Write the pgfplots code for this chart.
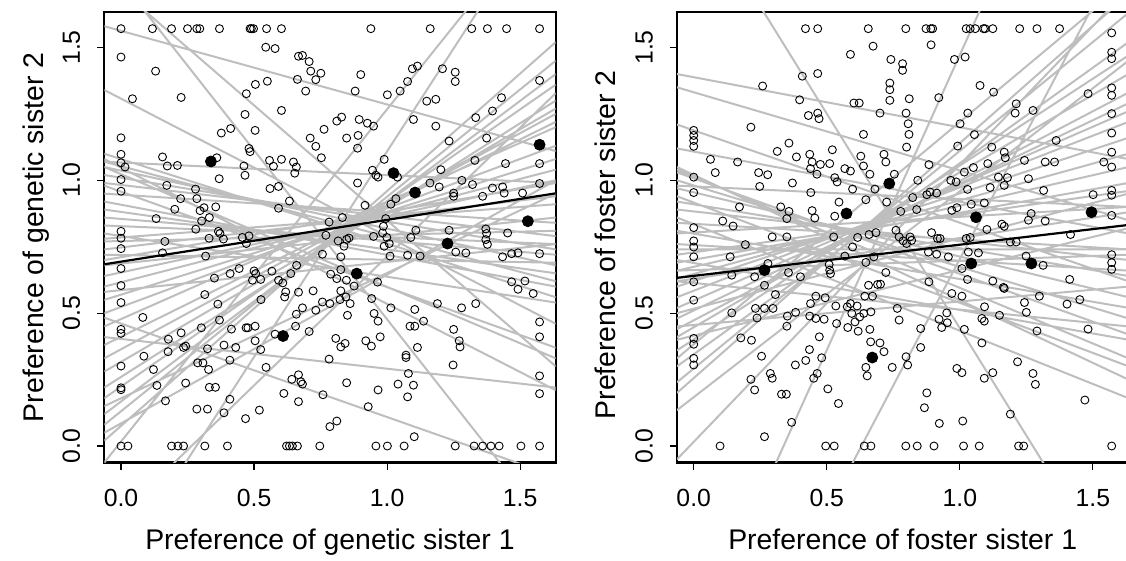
\documentclass[border=0pt]{standalone}
\usepackage{pgfplots}
\pgfplotsset{compat=1.18}
\usepackage{fontspec}
\setmainfont{Liberation Sans}
\definecolor{lgray}{RGB}{190,190,190}
\pgfplotsset{
  rpanel/.style={
    scale only axis, width=225.7pt, height=225.35pt,
    xmin=-0.0628, xmax=1.6336, ymin=-0.0628, ymax=1.6336,
    xtick={0,0.5,1,1.5}, ytick={0,0.5,1,1.5},
    tick align=outside, xtick pos=left, ytick pos=left,
    major tick length=3.5pt,
    axis line style={line width=1.2pt},
    tick style={line width=0.6pt, black},
    ticklabel style={font=\fontsize{12.4}{13}\selectfont},
    xticklabel style={anchor=base, yshift=-18.5pt},
    yticklabel style={xshift=-8.7pt, rotate=90, anchor=base},
    /pgf/number format/fixed, /pgf/number format/fixed zerofill,
    /pgf/number format/precision=1, /pgf/number format/assume math mode=true,
    every axis x label/.style={at={(axis description cs:0.5,0)}, yshift=-43.2pt, anchor=base, font=\fontsize{14.2}{16}\selectfont},
    every axis y label/.style={at={(axis description cs:0,0.5)}, xshift=-30.6pt, rotate=90, anchor=base, font=\fontsize{14.2}{16}\selectfont},
    unbounded coords=jump,
  },
  glines/.style={lgray, line width=1pt, no markers},
  opts/.style={only marks, mark=o, mark size=2pt, mark options={line width=0.45pt, black}},
  fpts/.style={only marks, mark=*, mark size=2.75pt, black},
}
\begin{document}
\begin{tikzpicture}
\useasboundingbox (0,0) rectangle (563pt,280.5pt);
% ---------------- left panel ----------------
\begin{axis}[rpanel, at={(52.15pt,49.15pt)}, anchor=south west,
  xlabel={Preference of genetic sister 1}, ylabel={Preference of genetic sister 2}]
\addplot[glines] table[row sep=\\] {
x y\\
-0.0628 1.83\\ 1.6336 -0.33\\ nan nan\\
-0.0628 1.77\\ 1.6336 0.30\\ nan nan\\
-0.0628 1.58\\ 1.6336 1.11\\ nan nan\\
-0.0628 1.34\\ 1.6336 0.46\\ nan nan\\
-0.0628 0.483\\ 1.6336 -0.114\\ nan nan\\
-0.0628 0.41\\ 1.6336 0.22\\ nan nan\\
-0.0628 1.08\\ 1.6336 0.21\\ nan nan\\
-0.0628 1.05\\ 1.6336 0.33\\ nan nan\\
-0.0628 0.98\\ 1.6336 0.37\\ nan nan\\
-0.0628 -0.536\\ 1.6336 2.09\\ nan nan\\
-0.0628 -0.318\\ 1.6336 1.328\\ nan nan\\
-0.0628 -0.062\\ 1.6336 2.06\\ nan nan\\
-0.0628 0.02\\ 1.6336 1.52\\ nan nan\\
-0.0628 0.08\\ 1.6336 1.45\\ nan nan\\
-0.0628 0.12\\ 1.6336 1.40\\ nan nan\\
-0.0628 0.18\\ 1.6336 1.36\\ nan nan\\
-0.0628 0.22\\ 1.6336 1.30\\ nan nan\\
-0.0628 0.28\\ 1.6336 1.27\\ nan nan\\
-0.0628 0.33\\ 1.6336 1.25\\ nan nan\\
-0.0628 0.38\\ 1.6336 1.22\\ nan nan\\
-0.0628 0.45\\ 1.6336 1.20\\ nan nan\\
-0.0628 0.50\\ 1.6336 1.13\\ nan nan\\
-0.0628 0.55\\ 1.6336 1.08\\ nan nan\\
-0.0628 0.60\\ 1.6336 1.04\\ nan nan\\
-0.0628 0.64\\ 1.6336 1.00\\ nan nan\\
-0.0628 0.70\\ 1.6336 0.99\\ nan nan\\
-0.0628 0.74\\ 1.6336 0.94\\ nan nan\\
-0.0628 0.78\\ 1.6336 0.91\\ nan nan\\
-0.0628 1.10\\ 1.6336 0.56\\ nan nan\\
-0.0628 1.07\\ 1.6336 0.62\\ nan nan\\
-0.0628 1.05\\ 1.6336 0.68\\ nan nan\\
-0.0628 1.02\\ 1.6336 0.74\\ nan nan\\
-0.0628 0.99\\ 1.6336 0.79\\ nan nan\\
-0.0628 0.95\\ 1.6336 0.84\\ nan nan\\
-0.0628 0.92\\ 1.6336 0.60\\ nan nan\\
-0.0628 0.89\\ 1.6336 0.65\\ nan nan\\
-0.0628 0.86\\ 1.6336 0.72\\ nan nan\\
-0.0628 0.83\\ 1.6336 0.76\\ nan nan\\
-0.0628 0.80\\ 1.6336 0.54\\ nan nan\\
-0.0628 0.77\\ 1.6336 0.81\\ nan nan\\
-0.0628 0.72\\ 1.6336 0.69\\ nan nan\\
-0.0628 0.68\\ 1.6336 0.86\\ nan nan\\
-0.0628 0.58\\ 1.6336 0.76\\ nan nan\\
-0.0628 1.07\\ 1.6336 0.99\\ nan nan\\
-0.0628 0.15\\ 1.6336 0.95\\ nan nan\\
-0.0628 0.05\\ 1.6336 1.00\\
};
\addplot[opts] table[row sep=\\] {
x y\\
0 1.5708\\ 0.118 1.5708\\ 0.19 1.5708\\ 0.25 1.5708\\ 0.285 1.5708\\ 0.296 1.5708\\ 0.37 1.5708\\ 0.485 1.5708\\ 0.49 1.5708\\ 0.498 1.5708\\ 0.547 1.5708\\ 0.603 1.5708\\ 0.939 1.5708\\ 1.162 1.5708\\ 1.318 1.5708\\ 1.377 1.5708\\ 1.449 1.5708\\ 1.573 1.5708\\
0 0\\ 0.026 0\\ 0.19 0\\ 0.214 0\\ 0.235 0\\ 0.315 0\\ 0.4 0\\ 0.622 0\\ 0.633 0\\ 0.644 0\\ 0.663 0\\ 0.747 0\\ 0.958 0\\ 1.001 0\\ 1.064 0\\ 1.256 0\\ 1.327 0\\ 1.359 0\\ 1.39 0\\ 1.421 0\\ 1.503 0\\ 1.573 0\\
0 1.464\\ 0.544 1.501\\ 0.579 1.496\\ 0.667 1.467\\ 0.13 1.411\\ 0.043 1.307\\ 0.226 1.312\\ 0.663 1.38\\ 0.55 1.373\\ 0.505 1.361\\ 0.471 1.326\\ 0.603 1.263\\ 0.466 1.248\\ 0.412 1.195\\ 0.377 1.178\\ 0.504 1.188\\ 0 1.16\\ 0.481 1.12\\ 0.485 1.108\\ 0 1.098\\ 0 1.066\\ 0.015 1.05\\ 0 1.003\\ 0 0.959\\ 0.156 1.088\\ 0.174 1.054\\ 0.212 1.056\\ 0.36 1.085\\ 0.369 1.006\\ 0.462 1.054\\ 0.466 1.019\\ 0.558 1.075\\ 0.573 1.053\\ 0.603 1.079\\ 0.648 1.069\\ 0.659 1.05\\ 0.653 1.027\\ 0.172 0.981\\ 0.28 0.967\\ 0.224 0.931\\ 0.285 0.931\\ 0.202 0.891\\ 0.297 0.886\\ 0.312 0.897\\ 0.356 0.9\\ 0.332 0.86\\ 0.303 0.847\\ 0.132 0.856\\ 0.56 0.969\\ 0.592 0.977\\ 0.592 0.895\\ 0.633 0.922\\ 0.281 0.816\\ 0.366 0.808\\ 0.372 0.8\\ 0.331 0.782\\ 0.385 0.779\\ 0.456 0.785\\ 0.481 0.791\\ 0.471 0.762\\ 0 0.808\\ 0 0.782\\ 0.165 0.77\\
0 0.743\\ 0.156 0.727\\ 0.318 0.715\\ 0 0.668\\ 0 0.604\\ 0 0.54\\ 0.444 0.668\\ 0.41 0.649\\ 0.351 0.632\\ 0.5 0.659\\ 0.506 0.649\\ 0.494 0.624\\ 0.525 0.627\\ 0.567 0.658\\ 0.592 0.624\\ 0.608 0.614\\ 0.638 0.649\\ 0.66 0.68\\ 0.619 0.58\\ 0.615 0.561\\ 0.315 0.57\\ 0.364 0.534\\ 0.526 0.551\\ 0.667 0.579\\ 0.659 0.496\\ 0.082 0.484\\ 0 0.439\\ 0 0.424\\ 0.37 0.474\\ 0.302 0.445\\ 0.226 0.426\\ 0.415 0.44\\ 0.47 0.445\\ 0.477 0.445\\ 0.504 0.451\\ 0.656 0.451\\ 0.178 0.402\\ 0.504 0.396\\ 0.579 0.421\\ 0.177 0.355\\ 0.235 0.371\\ 0.243 0.376\\ 0.325 0.366\\ 0.387 0.38\\ 0.431 0.371\\ 0.525 0.363\\ 0.086 0.338\\ 0.409 0.323\\ 0 0.301\\ 0.122 0.288\\ 0.288 0.313\\ 0.308 0.313\\ 0.329 0.288\\ 0.545 0.296\\ 0.667 0.268\\ 0.642 0.251\\ 0 0.219\\ 0 0.212\\ 0.135 0.228\\ 0.243 0.237\\ 0.332 0.221\\ 0.355 0.221\\ 0.612 0.198\\ 0.667 0.167\\ 0.167 0.17\\ 0.409 0.176\\ 0.285 0.139\\ 0.325 0.139\\ 0.387 0.125\\ 0.52 0.135\\ 0.468 0.103\\
0.682 1.47\\ 0.707 1.447\\ 0.713 1.411\\ 0.732 1.379\\ 0.751 1.403\\ 0.694 1.336\\ 0.901 1.398\\ 0.88 1.336\\ 1.095 1.42\\ 1.114 1.43\\ 1.208 1.42\\ 1.256 1.407\\ 1.256 1.372\\ 1.077 1.372\\ 1.049 1.336\\ 1.001 1.322\\ 1.149 1.298\\ 1.183 1.305\\ 1.573 1.376\\ 1.43 1.311\\ 1.396 1.261\\ 1.333 1.236\\ 1.099 1.229\\ 1.183 1.204\\ 0.811 1.223\\ 0.829 1.238\\ 0.895 1.229\\ 0.926 1.215\\ 0.949 1.204\\ 0.763 1.192\\ 0.711 1.159\\ 0.732 1.128\\ 0.848 1.159\\ 0.891 1.169\\ 0.889 1.121\\ 0.753 1.085\\ 0.989 1.079\\ 1.233 1.148\\ 1.374 1.159\\ 1.33 1.075\\ 1.445 1.063\\ 1.573 1.063\\ 1.573 0.988\\ 1.202 1.04\\ 0.945 1.038\\ 0.958 1.019\\ 0.966 1.012\\ 1.039 1.012\\ 0.889 0.99\\ 1.161 0.99\\ 1.196 0.975\\ 1.281 1.0\\ 1.321 0.984\\ 1.359 0.94\\ 1.396 0.971\\ 1.434 0.975\\ 1.44 0.952\\ 1.25 0.952\\ 1.25 0.94\\ 1.509 0.952\\ 1.014 0.91\\ 1.033 0.931\\ 0.917 0.906\\ 0.832 0.86\\ 0.782 0.843\\ 0.986 0.827\\ 0.995 0.856\\ 1.233 0.812\\ 1.371 0.817\\ 1.374 0.8\\ 1.453 0.802\\ 1.108 0.812\\ 1.089 0.785\\ 0.949 0.789\\ 0.983 0.802\\ 0.999 0.785\\ 1.008 0.762\\ 0.989 0.752\\ 0.77 0.793\\ 0.816 0.772\\ 0.848 0.778\\ 0.857 0.783\\ 0.838 0.752\\ 1.371 0.777\\ 1.377 0.759\\
0.757 0.722\\ 0.826 0.712\\ 1.011 0.715\\ 1.077 0.718\\ 1.124 0.715\\ 1.258 0.73\\ 1.296 0.727\\ 1.434 0.712\\ 1.468 0.724\\ 1.492 0.727\\ 1.573 0.724\\ 0.788 0.647\\ 0.811 0.63\\ 0.826 0.664\\ 0.847 0.624\\ 0.826 0.584\\ 0.823 0.551\\ 0.845 0.561\\ 0.876 0.602\\ 0.861 0.536\\ 0.851 0.492\\ 0.785 0.536\\ 0.757 0.542\\ 0.732 0.511\\ 0.707 0.431\\ 0.722 0.584\\ 0.682 0.52\\ 0.964 0.617\\ 0.942 0.555\\ 0.951 0.499\\ 0.966 0.47\\ 1.014 0.52\\ 1.104 0.514\\ 1.086 0.451\\ 1.104 0.451\\ 1.137 0.47\\ 1.189 0.536\\ 1.28 0.52\\ 1.333 0.536\\ 1.468 0.618\\ 1.492 0.59\\ 1.518 0.621\\ 1.549 0.574\\ 1.573 0.467\\ 1.573 0.411\\ 1.25 0.439\\ 1.271 0.396\\ 1.274 0.373\\ 0.807 0.405\\ 0.826 0.373\\ 0.842 0.386\\ 0.92 0.396\\ 0.941 0.376\\ 0.974 0.411\\ 1.114 0.371\\ 0.782 0.327\\ 1.071 0.342\\ 1.071 0.333\\ 1.08 0.273\\ 1.248 0.305\\ 1.573 0.264\\ 1.573 0.197\\ 0.676 0.242\\ 0.682 0.233\\ 0.848 0.238\\ 0.966 0.211\\ 1.041 0.233\\ 1.099 0.229\\ 1.077 0.185\\ 0.759 0.193\\ 0.929 0.148\\ 0.811 0.094\\ 0.785 0.073\\ 1.102 0.035\\
};
\addplot[black, line width=1.1pt, no markers] coordinates {(-0.0628,0.684) (1.6336,0.951)};
\addplot[fpts] coordinates {(0.338,1.071) (0.609,0.414) (1.024,1.027) (1.105,0.954) (1.573,1.134) (1.529,0.846) (1.227,0.762) (0.886,0.649)};
\end{axis}
% ---------------- right panel ----------------
\begin{axis}[rpanel, at={(338.5pt,49.15pt)}, anchor=south west,
  every axis y label/.append style={xshift=-3.8pt},
  xlabel={Preference of foster sister 1}, ylabel={Preference of foster sister 2}]
\addplot[glines] table[row sep=\\] {
x y\\
-0.0628 2.16\\ 1.6336 -0.58\\ nan nan\\
-0.0628 -1.32\\ 1.6336 1.91\\ nan nan\\
-0.0628 -0.89\\ 1.6336 2.88\\ nan nan\\
-0.0628 -0.05\\ 1.6336 1.72\\ nan nan\\
-0.0628 0.135\\ 1.6336 1.45\\ nan nan\\
-0.0628 0.24\\ 1.6336 1.63\\ nan nan\\
-0.0628 0.30\\ 1.6336 1.52\\ nan nan\\
-0.0628 0.36\\ 1.6336 1.47\\ nan nan\\
-0.0628 0.41\\ 1.6336 1.40\\ nan nan\\
-0.0628 0.44\\ 1.6336 1.33\\ nan nan\\
-0.0628 0.48\\ 1.6336 1.29\\ nan nan\\
-0.0628 0.52\\ 1.6336 1.26\\ nan nan\\
-0.0628 0.56\\ 1.6336 1.22\\ nan nan\\
-0.0628 0.60\\ 1.6336 1.16\\ nan nan\\
-0.0628 0.63\\ 1.6336 1.10\\ nan nan\\
-0.0628 0.66\\ 1.6336 1.05\\ nan nan\\
-0.0628 0.69\\ 1.6336 0.99\\ nan nan\\
-0.0628 0.72\\ 1.6336 0.96\\ nan nan\\
-0.0628 0.50\\ 1.6336 0.95\\ nan nan\\
-0.0628 0.80\\ 1.6336 0.90\\ nan nan\\
-0.0628 1.40\\ 1.6336 1.08\\ nan nan\\
-0.0628 1.35\\ 1.6336 0.85\\ nan nan\\
-0.0628 1.21\\ 1.6336 0.62\\ nan nan\\
-0.0628 1.05\\ 1.6336 0.25\\ nan nan\\
-0.0628 1.04\\ 1.6336 0.33\\ nan nan\\
-0.0628 1.03\\ 1.6336 0.42\\ nan nan\\
-0.0628 1.00\\ 1.6336 0.48\\ nan nan\\
-0.0628 0.97\\ 1.6336 0.56\\ nan nan\\
-0.0628 0.94\\ 1.6336 0.30\\ nan nan\\
-0.0628 0.92\\ 1.6336 0.64\\ nan nan\\
-0.0628 0.89\\ 1.6336 0.70\\ nan nan\\
-0.0628 0.86\\ 1.6336 0.18\\ nan nan\\
-0.0628 0.84\\ 1.6336 0.74\\ nan nan\\
-0.0628 0.81\\ 1.6336 0.52\\ nan nan\\
-0.0628 0.74\\ 1.6336 0.74\\ nan nan\\
-0.0628 0.76\\ 1.6336 0.66\\ nan nan\\
-0.0628 0.70\\ 1.6336 0.40\\ nan nan\\
-0.0628 0.66\\ 1.6336 0.72\\ nan nan\\
-0.0628 0.62\\ 1.6336 0.45\\ nan nan\\
-0.0628 0.62\\ 1.6336 0.88\\ nan nan\\
-0.0628 0.45\\ 1.6336 0.60\\ nan nan\\
-0.0628 1.12\\ 1.6336 0.80\\ nan nan\\
-0.0628 0.98\\ 1.6336 0.90\\ nan nan\\
-0.0628 0.40\\ 1.6336 0.82\\ nan nan\\
-0.0628 0.20\\ 1.6336 1.70\\ nan nan\\
-0.0628 0.33\\ 1.6336 1.75\\
};
\addplot[opts] table[row sep=\\] {
x y\\
0.42 1.5708\\ 0.466 1.5708\\ 0.656 1.5708\\ 0.797 1.5708\\ 0.873 1.5708\\ 0.891 1.5708\\ 0.898 1.5708\\ 1.024 1.5708\\ 1.039 1.5708\\ 1.058 1.5708\\ 1.089 1.5708\\ 1.095 1.5708\\ 1.124 1.5708\\ 1.225 1.5708\\ 1.29 1.5708\\ 1.375 1.5708\\
1.5708 1.555\\ 1.5708 1.482\\ 1.5708 1.458\\ 1.5708 1.348\\ 1.5708 1.32\\ 1.5708 1.251\\ 1.5708 1.178\\ 1.5708 1.106\\ 1.5708 1.05\\ 1.5708 0.962\\ 1.5708 0.944\\ 1.5708 0.868\\ 1.5708 0.72\\ 1.5708 0.69\\ 1.5708 0.665\\ 1.5708 0\\
0.099 0\\ 0.496 0\\ 0.528 0\\ 0.641 0\\ 0.666 0\\ 0.797 0\\ 0.84 0\\ 0.903 0\\ 1.014 0\\ 1.073 0\\ 1.221 0\\ 1.24 0\\
0 1.188\\ 0 1.169\\ 0 1.15\\ 0 1.128\\ 0 1.012\\ 0 0.954\\ 0 0.822\\ 0 0.772\\ 0 0.749\\ 0 0.712\\ 0 0.618\\ 0 0.549\\ 0 0.405\\ 0 0.383\\ 0 0.33\\ 0 0.305\\
0.674 1.505\\ 0.589 1.474\\ 0.408 1.392\\ 0.466 1.402\\ 0.259 1.355\\ 0.398 1.303\\ 0.602 1.291\\ 0.622 1.291\\ 0.431 1.244\\ 0.466 1.253\\ 0.471 1.232\\ 0.7 1.253\\ 0.215 1.2\\ 0.638 1.173\\ 0.358 1.14\\ 0.314 1.109\\ 0.063 1.079\\ 0.165 1.069\\ 0.386 1.088\\ 0.436 1.098\\ 0.445 1.069\\ 0.439 1.044\\ 0.463 1.023\\ 0.476 1.06\\ 0.511 1.063\\ 0.521 1.115\\ 0.628 1.091\\ 0.638 1.054\\ 0.662 1.023\\ 0.081 1.029\\ 0.244 1.029\\ 0.278 1.021\\ 0.248 0.977\\ 0.371 0.99\\ 0.53 1.01\\ 0.539 0.994\\ 0.568 1.044\\ 0.589 1.035\\ 0.597 0.967\\ 0.681 0.967\\ 0.44 0.954\\ 0.647 0.927\\ 0.546 0.918\\ 0.172 0.9\\ 0.327 0.9\\ 0.358 0.883\\ 0.35 0.856\\ 0.445 0.886\\ 0.455 0.858\\ 0.53 0.865\\ 0.109 0.847\\ 0.148 0.828\\ 0.295 0.787\\ 0.35 0.787\\ 0.526 0.787\\ 0.616 0.785\\ 0.659 0.796\\ 0.685 0.803\\ 0.194 0.758\\ 0.597 0.749\\
0.137 0.712\\ 0.143 0.643\\ 0.229 0.637\\ 0.266 0.605\\ 0.279 0.687\\ 0.356 0.653\\ 0.401 0.637\\ 0.511 0.662\\ 0.514 0.649\\ 0.509 0.683\\ 0.568 0.715\\ 0.647 0.691\\ 0.677 0.712\\ 0.307 0.57\\ 0.143 0.501\\ 0.232 0.518\\ 0.266 0.518\\ 0.298 0.518\\ 0.238 0.482\\ 0.352 0.489\\ 0.383 0.503\\ 0.35 0.451\\ 0.439 0.536\\ 0.459 0.564\\ 0.494 0.558\\ 0.436 0.489\\ 0.459 0.48\\ 0.49 0.477\\ 0.537 0.461\\ 0.534 0.527\\ 0.577 0.524\\ 0.589 0.536\\ 0.614 0.527\\ 0.594 0.499\\ 0.606 0.467\\ 0.624 0.486\\ 0.639 0.499\\ 0.643 0.564\\ 0.672 0.564\\ 0.657 0.605\\ 0.691 0.608\\ 0.666 0.505\\ 0.662 0.439\\ 0.665 0.392\\ 0.7 0.388\\ 0.579 0.446\\ 0.618 0.432\\ 0.177 0.407\\ 0.217 0.398\\ 0.255 0.338\\ 0.472 0.411\\ 0.435 0.363\\ 0.421 0.322\\ 0.382 0.305\\ 0.481 0.332\\ 0.215 0.251\\ 0.229 0.211\\ 0.288 0.273\\ 0.295 0.255\\ 0.464 0.273\\ 0.451 0.255\\ 0.647 0.296\\ 0.652 0.264\\ 0.33 0.195\\ 0.348 0.195\\ 0.504 0.215\\ 0.544 0.16\\ 0.368 0.089\\ 0.266 0.035\\
0.892 1.51\\ 0.741 1.455\\ 0.785 1.439\\ 0.785 1.414\\ 0.98 1.455\\ 1.02 1.464\\ 0.737 1.366\\ 0.737 1.341\\ 0.737 1.301\\ 0.81 1.307\\ 0.798 1.253\\ 0.806 1.213\\ 0.809 1.173\\ 0.8 1.125\\ 0.921 1.311\\ 1.076 1.357\\ 1.127 1.332\\ 1.212 1.288\\ 1.208 1.253\\ 1.275 1.263\\ 1.03 1.253\\ 1.001 1.213\\ 1.055 1.172\\ 0.992 1.129\\ 1.12 1.125\\ 1.167 1.106\\ 1.171 1.085\\ 1.362 1.15\\ 1.482 1.326\\ 1.541 1.069\\ 0.715 1.098\\ 0.722 1.069\\ 0.884 1.059\\ 0.842 1.0\\ 0.754 1.023\\ 1.017 1.031\\ 1.051 1.048\\ 1.105 1.063\\ 0.966 1.0\\ 0.986 0.994\\ 1.029 0.966\\ 1.114 0.973\\ 1.145 1.012\\ 1.167 0.981\\ 1.179 1.01\\ 1.243 1.075\\ 1.258 1.006\\ 1.321 1.069\\ 1.356 1.069\\ 1.315 0.962\\ 1.501 0.946\\ 0.725 0.918\\ 0.823 0.935\\ 0.876 0.946\\ 0.888 0.956\\ 0.913 0.952\\ 0.778 0.883\\ 0.838 0.89\\ 0.97 0.887\\ 0.989 0.897\\ 1.043 0.91\\ 1.092 0.915\\ 1.268 0.875\\ 1.258 0.85\\ 1.321 0.847\\ 1.102 0.815\\ 1.158 0.835\\ 1.167 0.827\\ 1.416 0.796\\ 0.894 0.803\\ 0.916 0.781\\ 0.926 0.781\\ 0.76 0.812\\ 0.772 0.787\\ 0.787 0.772\\ 0.813 0.787\\ 0.819 0.774\\ 0.8 0.762\\ 1.024 0.781\\ 1.039 0.785\\ 1.19 0.768\\ 1.212 0.768\\
0.882 0.73\\ 0.913 0.722\\ 0.957 0.712\\ 1.032 0.73\\ 1.07 0.727\\ 1.249 0.715\\ 1.313 0.68\\ 1.008 0.668\\ 1.029 0.627\\ 1.124 0.621\\ 1.164 0.597\\ 1.167 0.593\\ 1.413 0.627\\ 0.722 0.653\\ 0.702 0.609\\ 0.884 0.618\\ 0.97 0.574\\ 1.008 0.564\\ 1.243 0.54\\ 1.25 0.503\\ 1.299 0.564\\ 1.403 0.534\\ 1.451 0.551\\ 0.765 0.518\\ 0.772 0.474\\ 0.951 0.501\\ 0.922 0.477\\ 0.953 0.464\\ 0.932 0.446\\ 1.093 0.524\\ 1.083 0.48\\ 1.092 0.47\\ 1.149 0.492\\ 0.853 0.442\\ 1.017 0.439\\ 1.29 0.433\\ 1.482 0.44\\ 0.715 0.355\\ 0.853 0.371\\ 1.083 0.388\\ 0.798 0.336\\ 0.804 0.305\\ 0.746 0.296\\ 0.989 0.292\\ 1.008 0.276\\ 1.092 0.255\\ 1.124 0.276\\ 1.217 0.317\\ 1.275 0.273\\ 1.284 0.232\\ 0.876 0.2\\ 0.867 0.144\\ 0.923 0.085\\ 1.011 0.094\\ 1.19 0.12\\ 1.47 0.173\\
};
\addplot[black, line width=1.1pt, no markers] coordinates {(-0.0628,0.633) (1.6336,0.832)};
\addplot[fpts] coordinates {(0.574,0.875) (0.266,0.662) (0.671,0.333) (0.735,0.988) (1.061,0.861) (1.495,0.88) (1.043,0.687) (1.269,0.687)};
\end{axis}
\end{tikzpicture}
\end{document}
